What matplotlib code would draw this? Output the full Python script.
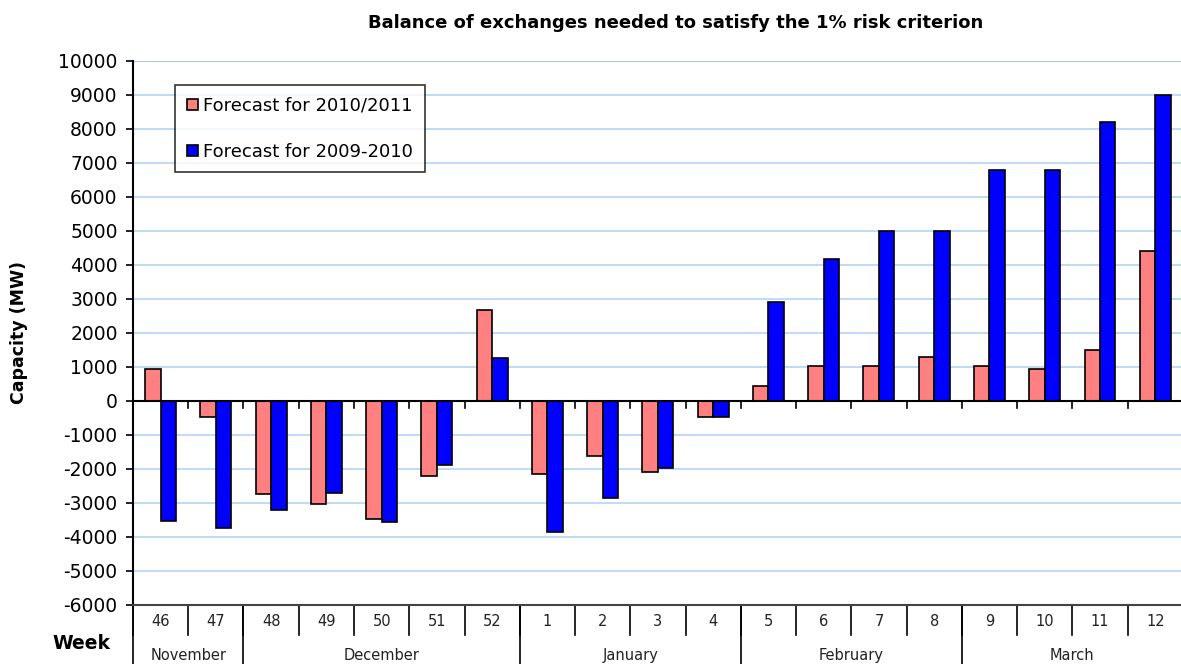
import numpy as np
import matplotlib
matplotlib.use("Agg")
import matplotlib.pyplot as plt

# data
weeks = ["46", "47", "48", "49", "50", "51", "52", "1", "2", "3", "4",
         "5", "6", "7", "8", "9", "10", "11", "12"]
months = ["November", "December", "January", "February", "March"]
month_sizes = [2, 5, 4, 4, 4]
forecast_2010_2011 = [950, -480, -2740, -3040, -3480, -2220, 2680,
                      -2140, -1620, -2090, -480,
                      430, 1040, 1040, 1300, 1040, 940, 1510, 4420]
forecast_2009_2010 = [-3530, -3750, -3220, -2700, -3570, -1870, 1260,
                      -3840, -2860, -1960, -480,
                      2910, 4170, 5000, 5000, 6780, 6780, 8210, 9000]

plt.rcParams['font.family'] = ['DejaVu Sans']
plt.rcParams['axes.unicode_minus'] = False

fig = plt.figure(figsize=(11.81, 6.64), dpi=100)
ax = fig.add_axes([0.1126, 0.0889, 0.889, 0.8193])

n = len(weeks)
x = np.arange(n) + 0.5
w = 0.28
ax.bar(x - w / 2, forecast_2010_2011, w, color="#ff8080", edgecolor="black",
       linewidth=1.2, label="Forecast for 2010/2011", zorder=3)
ax.bar(x + w / 2, forecast_2009_2010, w, color="#0000ff", edgecolor="black",
       linewidth=1.2, label="Forecast for 2009-2010", zorder=3)

ax.set_xlim(0, n)
ax.set_ylim(-6000, 10000)
ax.set_yticks(np.arange(-6000, 10001, 1000))
ax.tick_params(axis="y", labelsize=13.5, direction="out", length=5, width=1.2,
               pad=6)
ax.yaxis.grid(True, color="#b4d4f4", linewidth=1.2, zorder=0)
ax.set_xticks([])

for s in ["top", "right"]:
    ax.spines[s].set_visible(False)
ax.spines["left"].set_linewidth(1.5)
ax.spines["bottom"].set_linewidth(1.5)
ax.spines["bottom"].set_color("#444444")
ax.axhline(10000, color="#999999", linewidth=1.5, zorder=1)

# category axis at zero with small ticks at category boundaries
ax.axhline(0, color="black", linewidth=1.5, zorder=4)
for i in range(n + 1):
    ax.plot([i, i], [0, -200], color="black", linewidth=1.2, zorder=4)

# table-style labels below the plot
trans = ax.get_xaxis_transform()
for i, wk in enumerate(weeks):
    ax.text(i + 0.5, -0.031, wk, transform=trans, ha="center", va="center",
            fontsize=10.5, color="#222222")
for i in range(n + 1):
    ax.plot([i, i], [0, -0.055], transform=trans, color="black",
            linewidth=1.2, clip_on=False)
pos = 0
for m, size in zip(months, month_sizes):
    ax.text(pos + size / 2, -0.093, m, transform=trans, ha="center",
            va="center", fontsize=10.5, color="#222222")
    ax.plot([pos, pos], [0, -0.12], transform=trans, color="black",
            linewidth=1.2, clip_on=False)
    pos += size
ax.plot([pos, pos], [0, -0.12], transform=trans, color="black",
        linewidth=1.2, clip_on=False)

fig.text(0.069, 0.031, "Week", ha="center", va="center", fontsize=13.5,
         fontweight="bold")

ax.set_ylabel("Capacity (MW)", fontsize=12.5, fontweight="bold", labelpad=22)
fig.text(0.572, 0.966, "Balance of exchanges needed to satisfy the 1% risk criterion",
         ha="center", va="center", fontsize=13, fontweight="bold")

leg = ax.legend(loc="upper left", bbox_to_anchor=(0.040, 0.956), fontsize=13,
                frameon=True, fancybox=False, edgecolor="black",
                handlelength=0.6, handleheight=0.6, handletextpad=0.3,
                labelspacing=1.55, borderpad=0.65, borderaxespad=0)
leg.get_frame().set_linewidth(1.2)

fig.savefig("out.png", dpi=100)
